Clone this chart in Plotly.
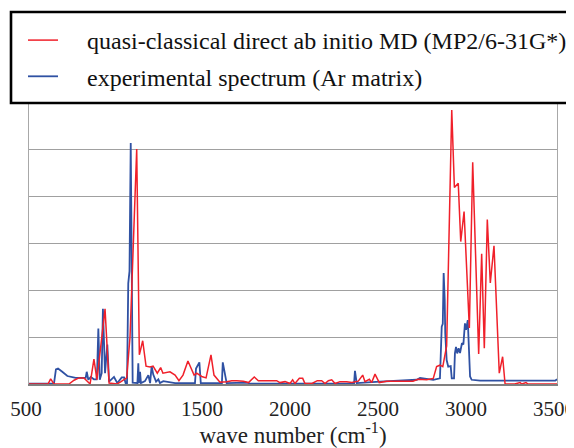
import plotly.graph_objects as go

# ---- data ----
calc_wn = [500, 608, 623, 642, 727, 756, 784, 812, 847, 869, 886, 932, 955, 1000, 1023, 1055, 1074, 1112,
           1127, 1146, 1165, 1188, 1205, 1222, 1229, 1248, 1261, 1301, 1330, 1352, 1375, 1403, 1438, 1453,
           1481, 1506, 1534, 1551, 1568, 1585, 1623, 1652, 1680, 1718, 1747, 1780, 1803, 1851, 1907, 1926,
           1955, 1983, 1998, 2011, 2036, 2055, 2068, 2108, 2138, 2163, 2182, 2201, 2220, 2239, 2267, 2305,
           2334, 2371, 2396, 2409, 2434, 2447, 2466, 2490, 2532, 2568, 2648, 2682, 2710, 2740, 2760, 2797,
           2816, 2835, 2851, 2873, 2902, 2917, 2939, 2953, 2972, 3002, 3021, 3055, 3072, 3087, 3104, 3121,
           3142, 3172, 3191, 3205, 3260, 3290, 3300, 3324, 3335, 3400, 3500]
calc_int = [0.0, 0.0, 0.11, 0.0, 0.0, 0.08, 0.13, 0.13, 0.0, 0.53, 0.09, 1.6, 0.02, 0.0, 0.05, 0.13, 1.0, 5.0,
            0.62, 0.92, 0.38, 0.36, 0.38, 0.26, 0.23, 0.35, 0.23, 0.26, 0.19, 0.07, 0.19, 0.49, 0.19, 0.23,
            0.16, 0.13, 0.62, 0.19, 0.11, 0.04, 0.05, 0.07, 0.07, 0.06, 0.03, 0.15, 0.07, 0.07, 0.07, 0.03,
            0.05, 0.01, 0.09, 0.01, 0.12, 0.12, 0.01, 0.01, 0.07, 0.07, 0.01, 0.07, 0.09, 0.01, 0.05, 0.05,
            0.03, 0.06, 0.19, 0.05, 0.10, 0.03, 0.21, 0.03, 0.06, 0.06, 0.06, 0.06, 0.10, 0.09, 0.09, 0.12,
            0.37, 0.40, 0.37, 0.81, 5.83, 4.18, 4.27, 3.03, 3.67, 1.19, 4.72, 0.64, 2.77, 0.76, 3.50, 2.15,
            2.94, 0.23, 0.58, 0.0, 0.0, 0.03, 0.0, 0.03, 0.0, 0.0, 0.0]

exp_wn = [500, 642, 653, 665, 689, 718, 765, 822, 828, 837, 851, 869, 884, 888, 894, 902, 913, 920, 932, 945,
          955, 983, 1002, 1027, 1040, 1049, 1057, 1064, 1071, 1078, 1089, 1116, 1121, 1125, 1131, 1136, 1159,
          1178, 1188, 1197, 1206, 1222, 1235, 1244, 1263, 1290, 1330, 1358, 1396, 1443, 1449, 1468, 1476,
          1528, 1596, 1601, 1614, 1623, 1737, 1756, 2341, 2347, 2352, 2362, 2494, 2665, 2703, 2722, 2797,
          2835, 2845, 2851, 2856, 2862, 2865, 2873, 2882, 2896, 2902, 2915, 2920, 2926, 2933, 2941, 2949,
          2960, 2968, 2977, 2983, 2993, 2998, 3006, 3015, 3063, 3490, 3500]
exp_int = [0.01, 0.01, 0.31, 0.33, 0.26, 0.17, 0.13, 0.13, 0.26, 0.09, 0.15, 0.10, 0.10, 0.37, 1.18, 0.09,
           0.23, 1.60, 0.23, 0.84, 0.05, 0.15, 0.02, 0.14, 0.14, 0.02, 0.02, 2.14, 2.40, 5.13, 0.03, 0.02,
           0.44, 0.02, 0.26, 0.02, 0.06, 0.19, 0.02, 0.38, 0.20, 0.05, 0.10, 0.02, 0.06, 0.04, 0.02, 0.02,
           0.02, 0.02, 0.33, 0.46, 0.02, 0.02, 0.02, 0.46, 0.14, 0.02, 0.03, 0.01, 0.01, 0.01, 0.28, 0.02,
           0.05, 0.08, 0.09, 0.13, 0.09, 0.12, 1.22, 1.28, 2.36, 1.79, 1.08, 0.51, 0.37, 0.38, 0.12, 0.12,
           0.65, 0.79, 0.65, 0.76, 0.66, 0.87, 0.84, 1.29, 1.15, 1.36, 1.01, 0.16, 0.09, 0.07, 0.07, 0.10]

x_ticks = [500, 1000, 1500, 2000, 2500, 3000, 3500]
calc_name = "quasi-classical direct ab initio MD (MP2/6-31G*)"
exp_name = "experimental spectrum (Ar matrix)"

SERIF = "Liberation Serif"
PAD = "\u00a0\u00a0\u00a0\u00a0"

# page body has an 8px margin, so the figure is 8px smaller on each axis
FIG_W, FIG_H = 566, 440
M_L, M_R, M_T, M_B = 21, 17, 94, 64
PLOT_W = FIG_W - M_L - M_R
PLOT_H = FIG_H - M_T - M_B


def px_to_paper_x(px):
    return (px - M_L) / PLOT_W


def px_to_paper_y(py):
    return (FIG_H - M_B - py) / PLOT_H


fig = go.Figure()
fig.add_trace(go.Scatter(x=exp_wn, y=exp_int, mode="lines", name=PAD + exp_name,
                         line=dict(color="#2f51a3", width=1.8),
                         legendgroup="b", legendrank=2))
fig.add_trace(go.Scatter(x=calc_wn, y=calc_int, mode="lines", name=PAD + calc_name,
                         line=dict(color="#f0202a", width=1.5),
                         legendgroup="a", legendrank=1))

# legend frame (white box with thick black border, running off the right edge)
fig.add_shape(type="rect", xref="paper", yref="paper",
              x0=px_to_paper_x(3), x1=px_to_paper_x(FIG_W + 40),
              y0=px_to_paper_y(95), y1=px_to_paper_y(4),
              line=dict(color="black", width=2.6), fillcolor="white", layer="above")

fig.update_layout(
    width=FIG_W, height=FIG_H, autosize=False,
    margin=dict(l=M_L, r=M_R, t=M_T, b=M_B, pad=0, autoexpand=False),
    paper_bgcolor="white", plot_bgcolor="white",
    showlegend=True,
    legend=dict(
        xref="container", yref="container",
        x=15/FIG_W, y=1-10/FIG_H, xanchor="left", yanchor="top",
        bgcolor="rgba(0,0,0,0)", borderwidth=0,
        font=dict(family=SERIF, size=24, color="#111111"),
        itemwidth=30, tracegroupgap=2, traceorder="grouped",
    ),
    xaxis=dict(
        range=[500, 3500], tickvals=x_ticks, ticktext=[str(v) for v in x_ticks],
        showgrid=False, zeroline=False, ticks="",
        showline=True, linecolor="#808080", linewidth=1.5,
        tickfont=dict(family=SERIF, size=21, color="#222222"),
        ticklabelstandoff=5, ticklabelshift=-3, ticklabeloverflow="allow",
        title=dict(text="wave number (cm<sup>-1</sup>)", standoff=8,
                   font=dict(family=SERIF, size=23, color="#222222")),
        automargin=False,
    ),
    yaxis=dict(
        range=[0, 6], dtick=1, showticklabels=False, ticks="",
        showgrid=True, gridcolor="#a0a0a0", gridwidth=1.2,
        zeroline=False, showline=True, linecolor="#a8a8a8", linewidth=1.2, mirror=True,
        automargin=False,
    ),
)

fig.write_html("out.html")
